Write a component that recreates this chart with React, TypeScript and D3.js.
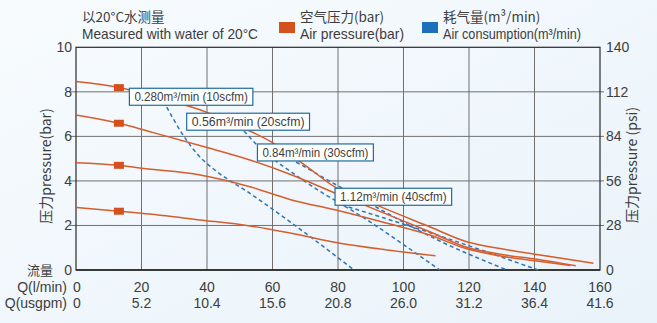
import React from "react";
import * as d3 from "d3";

const W = 657;
const H = 323;

// x: flow Q (l/min), y: air pressure (bar)
const xTicksLmin = [0, 20, 40, 60, 80, 100, 120, 140, 160];
const xTicksUsgpm = ["0", "5.2", "10.4", "15.6", "20.8", "26.0", "31.2", "36.4", "41.6"];
const yTicksBar = [0, 2, 4, 6, 8, 10];
const yTicksPsi = [0, 28, 56, 84, 112, 140];

// Air pressure curves (bar): [Q l/min, head bar]
const pressureCurve1: [number, number][] = [[0, 8.46], [13.1, 8.19], [25, 7.75], [40, 7.08], [50, 6.45], [60, 5.72], [70, 4.7], [79, 3.73], [92, 2.9], [108, 1.94], [119.3, 1.27], [130, 0.95], [140.7, 0.7], [158, 0.3]];
const pressureCurve2: [number, number][] = [[0, 6.96], [13.1, 6.59], [22.6, 6.21], [40, 5.5], [53.1, 4.94], [65.3, 4.3], [80, 3.4], [95, 2.5], [108, 1.72], [119.3, 1.02], [130, 0.7], [140.7, 0.48], [152.6, 0.19]];
const pressureCurve3: [number, number][] = [[0, 4.82], [13.1, 4.7], [20, 4.57], [37.9, 4.27], [53.1, 3.74], [65.3, 3.17], [80.6, 2.65], [95, 2.1], [108, 1.57], [119.3, 0.95], [130, 0.62], [140.7, 0.4], [151, 0.2]];
const pressureCurve4: [number, number][] = [[0, 2.81], [13.1, 2.64], [20, 2.55], [37.9, 2.25], [53.1, 1.98], [65.3, 1.66], [80.6, 1.2], [95, 0.9], [109.8, 0.64]];
const pressureCurves = [pressureCurve1, pressureCurve2, pressureCurve3, pressureCurve4];
const markerQ = 13.1;

// Air consumption lines (dashed)
const air028: [number, number][] = [[27.7, 7.31], [32.7, 6.06], [37.3, 5.16], [42.4, 4.49], [53.1, 3.44], [65.3, 2.17], [84.9, 0]];
const air056: [number, number][] = [[51.3, 6.24], [55.3, 5.61], [68.4, 4.13], [89.8, 2.16], [111.1, 0]];
const air084: [number, number][] = [[67.2, 4.85], [86.7, 3.23], [111.1, 1.3], [131.6, 0]];
const air112: [number, number][] = [[81.2, 2.92], [111.1, 1.53], [141.1, 0]];
const airLines = [air028, air056, air084, air112];

const airLabels = ["0.280m³/min (10scfm)", "0.56m³/min (20scfm)", "0.84m³/min (30scfm)", "1.12m³/min (40scfm)"];
// label box anchors in data coordinates: [Q left, bar top, Q right]
const airLabelBoxes: [number, number, number][] = [[16.3, 8.16, 54.0], [33.8, 7.04, 71.3], [55.4, 5.66, 90.8], [79.1, 3.67, 114.7]];

const ORANGE = "#d65d2c";
const MARK = "#d4501c";
const BLUE = "#2f74b8";
const TXT = "#3d3d3d";
const FONT = "'Liberation Sans', Arial, sans-serif";
const CJK = "'Noto Sans CJK SC', 'Liberation Sans', sans-serif";

export default function App() {
  const x = d3.scaleLinear().domain([0, 160]).range([76, 600]);
  const y = d3.scaleLinear().domain([0, 10]).range([270, 47.3]);
  const yPsi = d3.scaleLinear().domain([0, 140]).range([270, 47.3]);
  const line = d3
    .line<[number, number]>()
    .x((d) => x(d[0]))
    .y((d) => y(d[1]))
    .curve(d3.curveMonotoneX);
  const [x0, x1] = x.range();
  const [yb, yt] = y.range();

  return (
    <div style={{ position: "absolute", left: 0, top: 0 }}>
      <svg width={W} height={H} viewBox={`0 0 ${W} ${H}`} style={{ display: "block" }}>
        <defs>
          <linearGradient id="bg" x1="0" y1="0" x2="1" y2="1">
            <stop offset="0" stopColor="#f7fbfe" />
            <stop offset="1" stopColor="#eaf3fa" />
          </linearGradient>
        </defs>
        <rect x={0} y={0} width={W} height={H} fill="url(#bg)" />

        {/* Legend */}
        <text x={82} y={22} fontFamily={CJK} fontSize={13.5} fill={TXT}>以20°C水测量</text>
        <text x={82} y={39} fontFamily={FONT} fontSize={14.5} fill={TXT} textLength={176} lengthAdjust="spacingAndGlyphs">Measured with water of 20°C</text>
        <rect x={279} y={22} width={16} height={11} fill={MARK} />
        <text x={300} y={22} fontFamily={CJK} fontSize={13.5} fill={TXT}>空气压力(bar)</text>
        <text x={300} y={39} fontFamily={FONT} fontSize={14.5} fill={TXT} textLength={104} lengthAdjust="spacingAndGlyphs">Air pressure(bar)</text>
        <rect x={422} y={22} width={16} height={11} fill="#1b6fbd" />
        <text x={443} y={22} fontFamily={CJK} fontSize={13.5} fill={TXT}>耗气量(m³/min)</text>
        <text x={443} y={39} fontFamily={FONT} fontSize={14.5} fill={TXT} textLength={138} lengthAdjust="spacingAndGlyphs">Air consumption(m³/min)</text>

        {/* Grid */}
        {yTicksBar.filter((v) => v > 0 && v < 10).map((v) => (
          <line key={"gy" + v} x1={x0 - 6} x2={x1 + 4} y1={y(v)} y2={y(v)} stroke="#707070" strokeWidth={1} />
        ))}
        {xTicksLmin.filter((v) => v > 0 && v < 160).map((v) => (
          <line key={"gx" + v} x1={x(v)} x2={x(v)} y1={yb} y2={yt} stroke="#707070" strokeWidth={1} />
        ))}
        <rect x={x0} y={yt} width={x1 - x0} height={yb - yt} fill="none" stroke="#2a2a2a" strokeWidth={1.2} />
        <line x1={x0} x2={x1} y1={yb} y2={yb} stroke="#222" strokeWidth={1.6} />

        {/* Left ticks */}
        {yTicksBar.map((v) => (
          <text key={"yl" + v} x={72} y={y(v) + 5} textAnchor="end" fontFamily={FONT} fontSize={14} fill={TXT}>{v}</text>
        ))}
        {yTicksPsi.map((v) => (
          <text key={"yr" + v} x={606} y={yPsi(v) + 5} textAnchor="start" fontFamily={FONT} fontSize={14} fill={TXT}>{v}</text>
        ))}
        <text x={53} y={275} textAnchor="end" fontFamily={CJK} fontSize={13} fill={TXT}>流量</text>

        {/* Axis titles */}
        <text transform="translate(51,166) rotate(-90)" textAnchor="middle" fontFamily={CJK} fontSize={14} fill={TXT}>压力pressure(bar)</text>
        <text transform="translate(637,165) rotate(-90)" textAnchor="middle" fontFamily={CJK} fontSize={14} fill={TXT}>压力pressure (psi)</text>

        {/* Bottom tick rows */}
        <text x={67} y={292} textAnchor="end" fontFamily={FONT} fontSize={14} fill={TXT}>Q(l/min)</text>
        <text x={67} y={308} textAnchor="end" fontFamily={FONT} fontSize={14} fill={TXT}>Q(usgpm)</text>
        {xTicksLmin.map((v, i) => (
          <g key={"xt" + v}>
            <text x={i === 0 ? x(v) + 1 : x(v)} y={292} textAnchor="middle" fontFamily={FONT} fontSize={14} fill={TXT}>{v}</text>
            <text x={i === 0 ? x(v) + 1 : x(v)} y={308} textAnchor="middle" fontFamily={FONT} fontSize={14} fill={TXT}>{xTicksUsgpm[i]}</text>
          </g>
        ))}

        {/* Air consumption dashed lines */}
        {airLines.map((pts, i) => (
          <path key={"air" + i} d={line(pts) || ""} fill="none" stroke={BLUE} strokeWidth={1.5} strokeDasharray="4 3" />
        ))}

        {/* Pressure curves */}
        {pressureCurves.map((pts, i) => (
          <path key={"pc" + i} d={line(pts) || ""} fill="none" stroke={ORANGE} strokeWidth={1.5} />
        ))}
        {pressureCurves.map((pts, i) => {
          const v = d3.scaleLinear().domain(pts.map((p) => p[0])).range(pts.map((p) => p[1]))(markerQ);
          return <rect key={"mk" + i} x={x(markerQ) - 5} y={y(v) - 3.5} width={10} height={7} fill={MARK} />;
        })}

        {/* Air consumption labels */}
        {airLabelBoxes.map((b, i) => {
          const bx = x(b[0]);
          const by = y(b[1]);
          const bw = x(b[2]) - bx;
          return (
            <g key={"lb" + i}>
              <rect x={bx} y={by} width={bw} height={17} fill="#ffffff" stroke="#1f6c9f" strokeWidth={1.2} />
              <text x={bx + 5} y={by + 13} textAnchor="start" fontFamily={FONT} fontSize={13.5} fill={TXT} textLength={bw - 10} lengthAdjust="spacingAndGlyphs">{airLabels[i]}</text>
            </g>
          );
        })}
      </svg>
    </div>
  );
}
